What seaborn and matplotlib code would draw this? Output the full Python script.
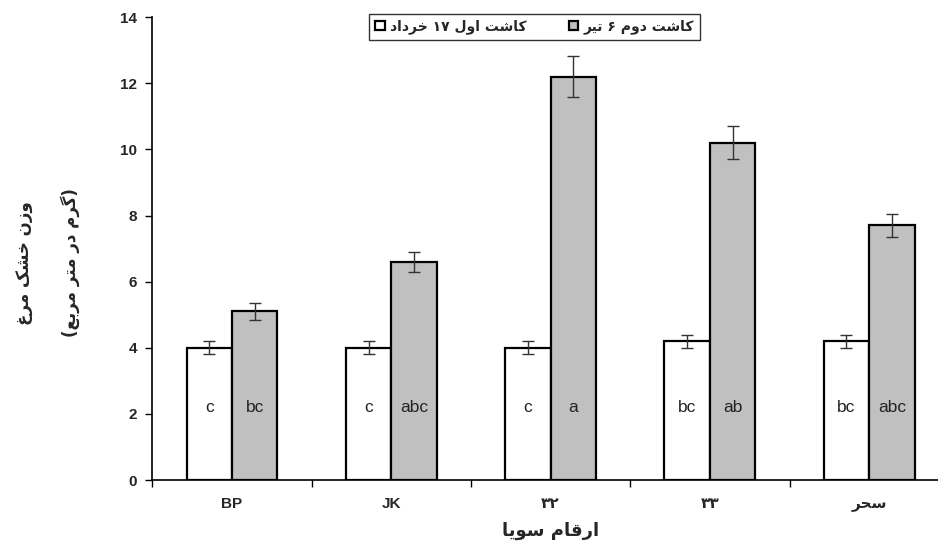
import matplotlib
matplotlib.use("Agg")
import matplotlib.pyplot as plt
import seaborn as sns
import pandas as pd
from matplotlib.ticker import FixedLocator

# ---- data -------------------------------------------------------------
cultivars = ["BP", "JK", "۳۲", "۳۳", "سحر"]
sowing_dates = ["کاشت اول ۱۷ خرداد", "کاشت دوم ۶ تیر"]
first_sowing = [4.0, 4.0, 4.0, 4.2, 4.2]
first_err = [0.2, 0.2, 0.2, 0.2, 0.2]
second_sowing = [5.1, 6.6, 12.2, 10.2, 7.7]
second_err = [0.25, 0.3, 0.62, 0.5, 0.36]
first_letters = ["c", "c", "c", "bc", "bc"]
second_letters = ["bc", "abc", "a", "ab", "abc"]
y_label_lines = ["وزن خشک مرغ", "(گرم در متر مربع)"]
x_label = "ارقام سویا"
y_ticks = [0, 2, 4, 6, 8, 10, 12, 14]

# ---- minimal Arabic/Persian shaping for matplotlib text ---------------
# (isolated, final, initial, medial); right-joining letters have no initial/medial
FORMS = {
    "ا": ("\uFE8D", "\uFE8E", None, None),
    "ب": ("\uFE8F", "\uFE90", "\uFE91", "\uFE92"),
    "ت": ("\uFE95", "\uFE96", "\uFE97", "\uFE98"),
    "ح": ("\uFEA1", "\uFEA2", "\uFEA3", "\uFEA4"),
    "خ": ("\uFEA5", "\uFEA6", "\uFEA7", "\uFEA8"),
    "د": ("\uFEA9", "\uFEAA", None, None),
    "ر": ("\uFEAD", "\uFEAE", None, None),
    "ز": ("\uFEAF", "\uFEB0", None, None),
    "س": ("\uFEB1", "\uFEB2", "\uFEB3", "\uFEB4"),
    "ش": ("\uFEB5", "\uFEB6", "\uFEB7", "\uFEB8"),
    "ع": ("\uFEC9", "\uFECA", "\uFECB", "\uFECC"),
    "غ": ("\uFECD", "\uFECE", "\uFECF", "\uFED0"),
    "ق": ("\uFED5", "\uFED6", "\uFED7", "\uFED8"),
    "ل": ("\uFEDD", "\uFEDE", "\uFEDF", "\uFEE0"),
    "م": ("\uFEE1", "\uFEE2", "\uFEE3", "\uFEE4"),
    "ن": ("\uFEE5", "\uFEE6", "\uFEE7", "\uFEE8"),
    "و": ("\uFEED", "\uFEEE", None, None),
    "ی": ("\uFBFC", "\uFBFD", "\uFBFE", "\uFBFF"),
    "ک": ("\uFB8E", "\uFB8F", "\uFB90", "\uFB91"),
    "گ": ("\uFB92", "\uFB93", "\uFB94", "\uFB95"),
}
DIGITS = set("۰۱۲۳۴۵۶۷۸۹0123456789")


def rtl(text):
    if not any(ch in FORMS for ch in text):
        return text
    shaped = []
    for i, ch in enumerate(text):
        if ch not in FORMS:
            shaped.append(ch)
            continue
        prev = text[i - 1] if i > 0 else ""
        nxt = text[i + 1] if i < len(text) - 1 else ""
        join_prev = prev in FORMS and FORMS[prev][2] is not None
        join_next = nxt in FORMS and FORMS[ch][2] is not None
        iso, fin, ini, med = FORMS[ch]
        if join_prev and join_next:
            shaped.append(med)
        elif join_prev:
            shaped.append(fin)
        elif join_next:
            shaped.append(ini)
        else:
            shaped.append(iso)
    mirror = {"(": ")", ")": "("}
    vis = [mirror.get(c, c) for c in reversed(shaped)]
    # numbers keep left-to-right order inside right-to-left text
    out, run = [], []
    for c in vis:
        if c in DIGITS:
            run.append(c)
        else:
            out.extend(reversed(run))
            run = []
            out.append(c)
    out.extend(reversed(run))
    return "".join(out)


# ---- figure -------------------------------------------------------------
sns.set_theme(style="white")
plt.rcParams["font.family"] = ["Liberation Sans", "DejaVu Sans"]

rows = []
for i, c in enumerate(cultivars):
    rows.append({"cultivar": c, "sowing": sowing_dates[0], "dry": first_sowing[i]})
    rows.append({"cultivar": c, "sowing": sowing_dates[1], "dry": second_sowing[i]})
df = pd.DataFrame(rows)

fig = plt.figure(figsize=(9.38, 5.53), dpi=100)
ax = fig.add_axes([0.1625, 0.132, 0.849, 0.837])

sns.barplot(
    data=df, x="cultivar", y="dry", hue="sowing",
    order=cultivars, hue_order=sowing_dates,
    palette=["white", "#c0c0c0"], width=0.57, gap=0,
    edgecolor="black", linewidth=1.6, errorbar=None, ax=ax,
)

# error bars and significance letters placed on the drawn bars
containers = ax.containers
for cont, errs, letters in zip(containers, [first_err, second_err],
                               [first_letters, second_letters]):
    xs = [p.get_x() + p.get_width() / 2 for p in cont.patches]
    hs = [p.get_height() for p in cont.patches]
    ax.errorbar(xs, hs, yerr=errs, fmt="none", ecolor="#333333",
                elinewidth=1.0, capsize=4, capthick=1.0, zorder=5)
    for x, lab in zip(xs, letters):
        ax.text(x, 2.2, lab, ha="center", va="center", fontsize=12.5,
                color="#222222", family="Liberation Sans")

ax.set_ylim(0, 14)
ax.set_xlim(-0.5, 4.5)
ax.set_yticks(y_ticks)
ax.set_yticklabels([str(t) for t in y_ticks], fontsize=11, fontweight="bold")
ax.tick_params(axis="y", direction="out", length=5, width=1, color="black",
               left=True, pad=6)

# category boundaries carry the tick marks, names sit between them
ax.xaxis.set_minor_locator(FixedLocator([i - 0.5 for i in range(len(cultivars) + 1)]))
ax.tick_params(axis="x", which="minor", direction="out", length=5, width=1,
               color="black", bottom=True)
ax.tick_params(axis="x", which="major", length=0, pad=12)
ax.set_xticks(range(len(cultivars)))
ax.set_xticklabels([rtl(c) for c in cultivars], fontsize=11, fontweight="bold",
                   family=["Liberation Sans", "DejaVu Sans"])

for side in ["top", "right"]:
    ax.spines[side].set_visible(False)
for side in ["left", "bottom"]:
    ax.spines[side].set_color("black")
    ax.spines[side].set_linewidth(1.2)

ax.set_xlabel(rtl(x_label), fontsize=13, fontweight="bold",
              family=["DejaVu Sans"], labelpad=8)
ax.set_ylabel("")
fig.text(0.027, 0.525, rtl(y_label_lines[0]), rotation=90, ha="center",
         va="center", fontsize=12, fontweight="bold", family=["DejaVu Sans"])
fig.text(0.075, 0.525, rtl(y_label_lines[1]), rotation=90, ha="center",
         va="center", fontsize=12, fontweight="bold", family=["DejaVu Sans"])

handles, _ = ax.get_legend_handles_labels()
leg = ax.legend(handles, [rtl(s) for s in sowing_dates], ncol=2,
                loc="upper center", bbox_to_anchor=(0.48, 1.022),
                frameon=True, fancybox=False, edgecolor="black",
                prop={"family": "DejaVu Sans", "weight": "bold", "size": 10},
                handlelength=0.7, handleheight=0.7, handletextpad=0.4,
                columnspacing=3.0, borderpad=0.4)
leg.get_frame().set_linewidth(1.0)

fig.savefig("out.png", dpi=100)
